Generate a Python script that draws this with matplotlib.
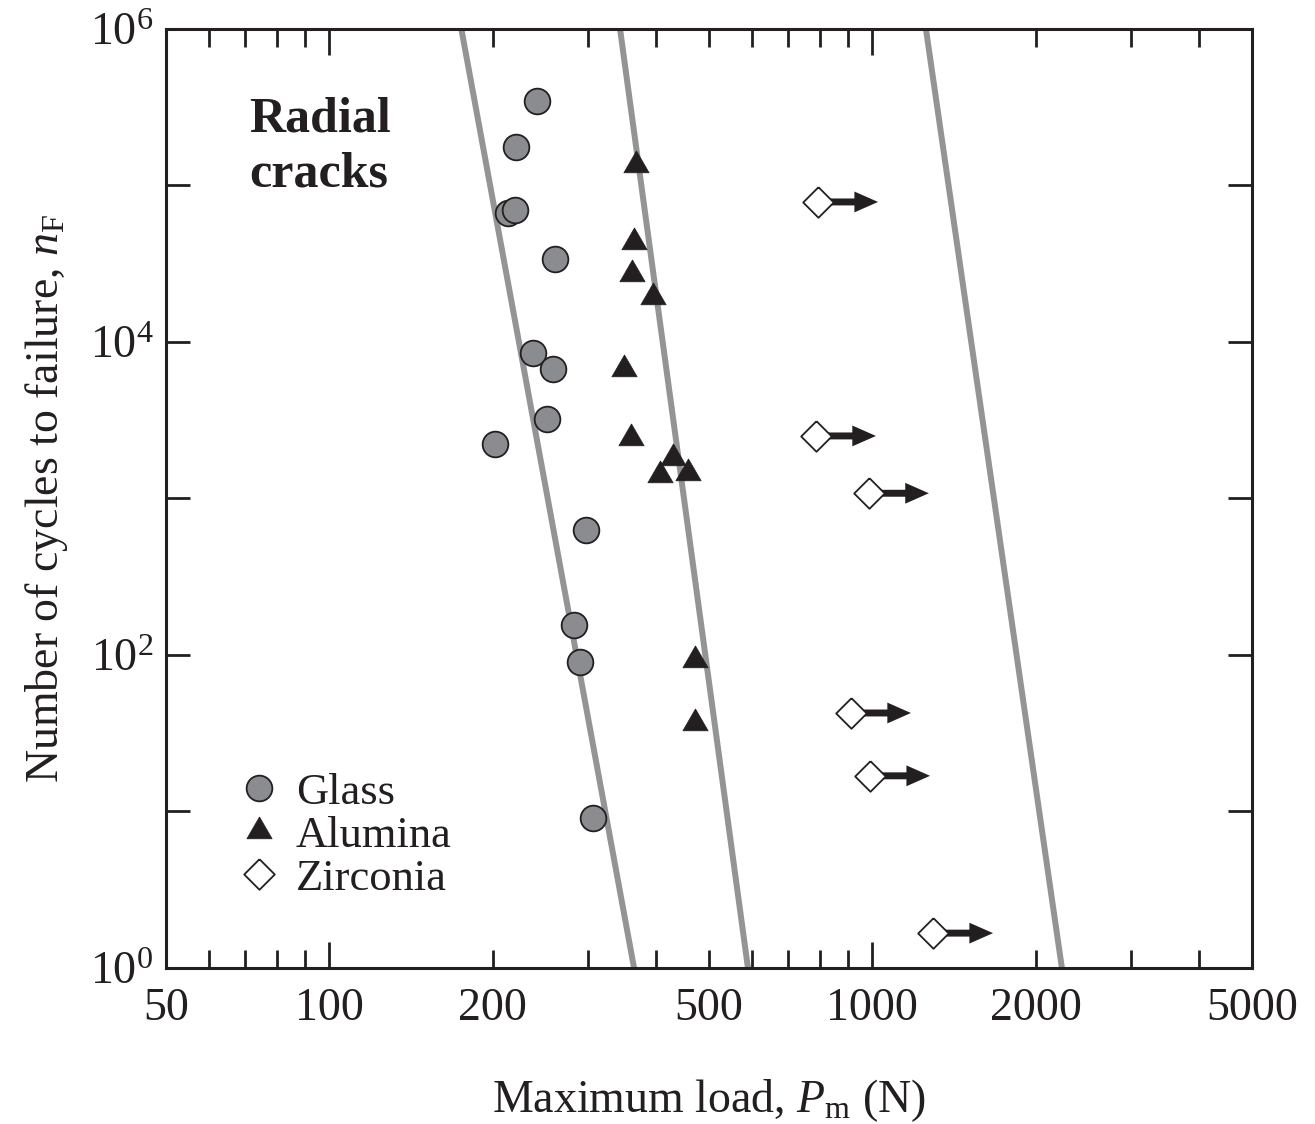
import numpy as np
import matplotlib
matplotlib.use("Agg")
import matplotlib.pyplot as plt
from matplotlib.ticker import FixedLocator, NullFormatter

plt.rcParams['font.family'] = ['Liberation Serif', 'DejaVu Serif']
plt.rcParams['mathtext.fontset'] = 'custom'
plt.rcParams['mathtext.rm'] = 'Liberation Serif'
plt.rcParams['mathtext.it'] = 'Liberation Serif:italic'

# data
glass_load = [241, 221, 213, 220, 260, 237, 258, 252, 202, 297, 282, 289, 306]
glass_cycles = [3.47e5, 1.76e5, 6.7e4, 7.0e4, 3.39e4, 8.5e3, 6.7e3, 3.22e3,
                2.23e3, 630, 155, 90, 9.1]

alumina_load = [367, 364, 361, 394, 349, 359, 429, 406, 458, 471, 471]
alumina_cycles = [1.35e5, 4.35e4, 2.72e4, 1.94e4, 6.7e3, 2.44e3, 1.81e3,
                  1.41e3, 1.46e3, 93, 37]

zirconia_load = [794, 787, 985, 913, 990, 1293]
zirconia_cycles = [7.85e4, 2.51e3, 1.08e3, 42.6, 16.9, 1.67]

# grey fit lines: (load at n=1e6, load at n=1)
fit_lines = [(175, 364), (343, 590), (1255, 2234)]
fit_cycles = [1e6, 1]

black = '#231f20'
grey_fill = '#8b8c90'
grey_line = '#939496'

fig = plt.figure(figsize=(13.15, 11.24), dpi=100)
ax = fig.add_axes([0.1262, 0.1388, 0.8258, 0.8354])

for lo, hi in fit_lines:
    ax.plot([lo, hi], fit_cycles, color=grey_line, lw=4.3, zorder=2,
            solid_capstyle='butt')

tri = [(0, 0.577), (-0.5, -0.289), (0.5, -0.289), (0, 0.577)]
dia = [(0, 1), (1, 0), (0, -1), (-1, 0), (0, 1)]

ax.plot(glass_load, glass_cycles, 'o', ms=18.5, mfc=grey_fill, mec=black,
        mew=1.3, ls='none', label='Glass', zorder=4)
ax.plot(alumina_load, alumina_cycles, marker=tri, ms=21, mfc=black, mec=black,
        mew=0.5, ls='none', label='Alumina', zorder=4)
ax.plot(zirconia_load, zirconia_cycles, marker=dia, ms=22, mfc='white',
        mec=black, mew=1.3, ls='none', label='Zirconia', zorder=5)

# run-out arrows on zirconia
for x, y in zip(zirconia_load, zirconia_cycles):
    ax.annotate('', xy=(x * 1.29, y), xytext=(x, y),
                arrowprops=dict(width=5, headwidth=15, headlength=17,
                                color=black, lw=0, shrink=0),
                zorder=3)

ax.set_xscale('log')
ax.set_yscale('log')
ax.set_xlim(50, 5000)
ax.set_ylim(1, 1e6)

xt = [50, 100, 200, 500, 1000, 2000, 5000]
ax.xaxis.set_major_locator(FixedLocator(xt))
ax.set_xticklabels([str(v) for v in xt])
ax.xaxis.set_minor_locator(FixedLocator([60, 70, 80, 90, 300, 400, 600, 700,
                                         800, 900, 3000, 4000]))
ax.xaxis.set_minor_formatter(NullFormatter())

yt = [10.0 ** k for k in range(7)]
ax.yaxis.set_major_locator(FixedLocator(yt))
ax.set_yticklabels(['$10^{%d}$' % k if k % 2 == 0 else '' for k in range(7)])
ax.yaxis.set_minor_locator(FixedLocator([]))

ax.tick_params(which='both', direction='in', top=True, right=True,
               width=2.0, colors=black, labelsize=33)
ax.tick_params(axis='x', which='major', length=19, pad=14)
ax.tick_params(axis='x', which='minor', length=13)
ax.tick_params(axis='y', which='major', length=17, pad=9)

# shorter marks for the labelled non-decade ticks
for i, t in enumerate(ax.xaxis.get_major_ticks()):
    if xt[i] not in (100, 1000):
        t.tick1line.set_markersize(13)
        t.tick2line.set_markersize(13)

for s in ax.spines.values():
    s.set_linewidth(2.2)
    s.set_color(black)

ax.set_xlabel(r'Maximum load, $P_{\mathrm{m}}$ (N)', fontsize=33,
              labelpad=34, color=black)
ax.set_ylabel(r'Number of cycles to failure, $n_{\mathrm{F}}$', fontsize=33,
              labelpad=14, color=black)

ax.text(0.0764, 0.928, 'Radial\ncracks', transform=ax.transAxes,
        fontsize=36, fontweight='bold', va='top', ha='left',
        linespacing=1.25, color=black)

ax.legend(loc='lower left', bbox_to_anchor=(0.052, 0.055), frameon=False,
          fontsize=32, handlelength=0.85, handletextpad=0.4,
          labelspacing=0.06, borderaxespad=0, numpoints=1,
          labelcolor=black)

fig.savefig('out.png', dpi=100)
